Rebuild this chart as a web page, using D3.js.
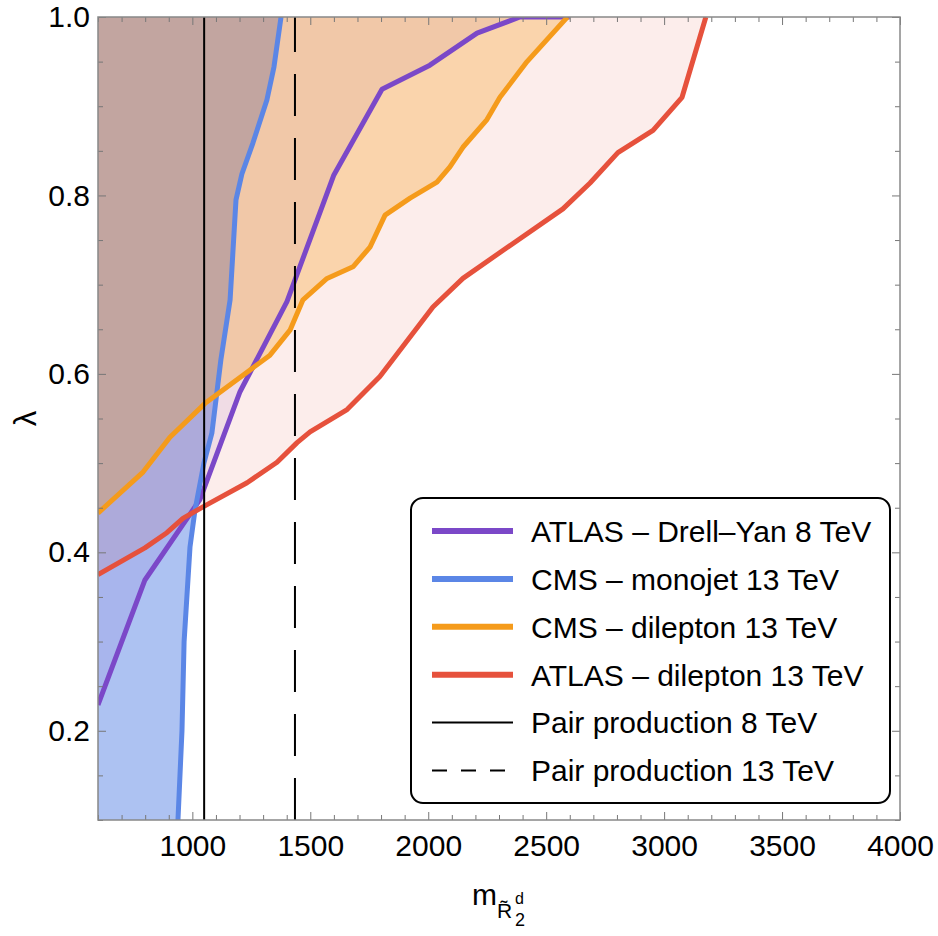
<!DOCTYPE html>
<html>
<head>
<meta charset="utf-8">
<script src="https://cdn.jsdelivr.net/npm/d3@7"></script>
<style>
  body { margin: 0; background: #fff; }
  text { font-family: "Liberation Sans", Arial, sans-serif; fill: #000; }
</style>
</head>
<body>
<div id="chart"></div>
<script>
// exclusion contours, mass (GeV) vs lambda
const atlasDyMass = [600, 799, 1032, 1202, 1401, 1600, 1804, 2007, 2207, 2389, 2600];
const atlasDyLambda = [0.229, 0.369, 0.459, 0.580, 0.681, 0.823, 0.919, 0.946, 0.982, 1.0, 1.0];

const cmsMonojetMass = [939, 956, 965, 990, 1011, 1049, 1083, 1121, 1160, 1185, 1210, 1257, 1316, 1346, 1376];
const cmsMonojetLambda = [0.10, 0.20, 0.30, 0.406, 0.447, 0.50, 0.534, 0.616, 0.683, 0.795, 0.824, 0.859, 0.907, 0.944, 1.0];

const cmsDilepMass = [600, 791, 905, 1054, 1329, 1414, 1469, 1571, 1681, 1753, 1817, 1923, 2037, 2092, 2147, 2249, 2304, 2419, 2590];
const cmsDilepLambda = [0.444, 0.490, 0.529, 0.567, 0.621, 0.649, 0.683, 0.707, 0.720, 0.742, 0.778, 0.797, 0.815, 0.832, 0.854, 0.885, 0.910, 0.950, 1.0];

const atlasDilepMass = [600, 799, 892, 960, 1045, 1232, 1359, 1444, 1499, 1656, 1795, 2020, 2147, 2304, 2571, 2686, 2804, 2953, 3076, 3177];
const atlasDilepLambda = [0.375, 0.405, 0.422, 0.438, 0.451, 0.478, 0.501, 0.523, 0.535, 0.560, 0.597, 0.675, 0.707, 0.736, 0.785, 0.814, 0.848, 0.873, 0.910, 1.0];

const pairMass = [1050, 1435]; // 8 TeV, 13 TeV

const massTicks = [1000, 1500, 2000, 2500, 3000, 3500, 4000];
const lambdaTicks = [0.2, 0.4, 0.6, 0.8, 1.0];

const legendLabels = [
  'ATLAS – Drell–Yan 8 TeV',
  'CMS – monojet 13 TeV',
  'CMS – dilepton 13 TeV',
  'ATLAS – dilepton 13 TeV',
  'Pair production 8 TeV',
  'Pair production 13 TeV'
];

const dims = { width: 938, height: 936 };
const frame = { left: 98, right: 900, top: 17, bottom: 820 };

const colors = { dy: '#7b48c8', mono: '#5b86e6', cmsDl: '#f59b1b', atlasDl: '#e6513c' };

const svg = d3.select('#chart')
  .append('svg')
  .attr('width', dims.width)
  .attr('height', dims.height);

const x = d3.scaleLinear().domain([600, 4000]).range([frame.left, frame.right]);
const y = d3.scaleLinear().domain([0.1, 1.0]).range([frame.bottom, frame.top]);

const toPoints = (ms, ls) => d3.zip(ms, ls).map(([m, l]) => ({ m, l }));

const dyData = toPoints(atlasDyMass, atlasDyLambda);
const monoData = toPoints(cmsMonojetMass, cmsMonojetLambda);
const cmsDlData = toPoints(cmsDilepMass, cmsDilepLambda);
const atlasDlData = toPoints(atlasDilepMass, atlasDilepLambda);

svg.append('clipPath').attr('id', 'plotClip')
  .append('rect')
  .attr('x', frame.left).attr('y', frame.top)
  .attr('width', frame.right - frame.left)
  .attr('height', frame.bottom - frame.top);

const plot = svg.append('g').attr('clip-path', 'url(#plotClip)');

// excluded regions
const leftArea = d3.area()
  .y(d => y(d.l))
  .x0(x(600))
  .x1(d => x(d.m));

const aboveArea = d3.area()
  .x(d => x(d.m))
  .y0(y(1.0))
  .y1(d => y(d.l));

plot.append('path').attr('d', leftArea(monoData)).attr('fill', colors.mono).attr('fill-opacity', 0.5);
plot.append('path').attr('d', aboveArea(dyData)).attr('fill', colors.dy).attr('fill-opacity', 0.1);
plot.append('path').attr('d', aboveArea(atlasDlData)).attr('fill', colors.atlasDl).attr('fill-opacity', 0.1);
plot.append('path').attr('d', aboveArea(cmsDlData)).attr('fill', colors.cmsDl).attr('fill-opacity', 0.3);

const line = d3.line()
  .x(d => x(d.m))
  .y(d => y(d.l));

[[dyData, colors.dy], [monoData, colors.mono], [cmsDlData, colors.cmsDl], [atlasDlData, colors.atlasDl]]
  .forEach(([data, c]) => {
    plot.append('path')
      .attr('d', line(data))
      .attr('fill', 'none')
      .attr('stroke', c)
      .attr('stroke-width', 5)
      .attr('stroke-linejoin', 'round');
  });

// pair production bounds
pairMass.forEach((m, i) => {
  plot.append('line')
    .attr('x1', x(m)).attr('x2', x(m))
    .attr('y1', y(0.1)).attr('y2', y(1.0))
    .attr('stroke', '#000')
    .attr('stroke-width', 2)
    .attr('stroke-dasharray', i === 1 ? '42,22' : null);
});

// frame + ticks
const minorMass = d3.range(600, 4001, 100).filter(v => v % 500 !== 0);
const minorLambda = d3.range(2, 21).map(v => v * 0.05).filter(v => Math.round(v * 100) % 20 !== 0);

const tickStyle = g => {
  g.select('.domain').remove();
  g.selectAll('.tick line').attr('stroke', '#777').attr('stroke-width', 1);
  g.selectAll('text').style('font-size', '30px').attr('fill', '#000');
};

svg.append('g').attr('transform', `translate(0,${frame.bottom})`)
  .call(d3.axisBottom(x).tickValues(massTicks).tickSizeInner(-8).tickSizeOuter(0).tickPadding(15).tickFormat(d3.format('d')))
  .call(tickStyle);
svg.append('g').attr('transform', `translate(0,${frame.bottom})`)
  .call(d3.axisBottom(x).tickValues(minorMass).tickSizeInner(-5).tickSizeOuter(0).tickFormat(''))
  .call(tickStyle);
svg.append('g').attr('transform', `translate(0,${frame.top})`)
  .call(d3.axisTop(x).tickValues(massTicks).tickSizeInner(-8).tickSizeOuter(0).tickFormat(''))
  .call(tickStyle);
svg.append('g').attr('transform', `translate(0,${frame.top})`)
  .call(d3.axisTop(x).tickValues(minorMass).tickSizeInner(-5).tickSizeOuter(0).tickFormat(''))
  .call(tickStyle);

svg.append('g').attr('transform', `translate(${frame.left},0)`)
  .call(d3.axisLeft(y).tickValues(lambdaTicks).tickSizeInner(-8).tickSizeOuter(0).tickPadding(8).tickFormat(d3.format('.1f')))
  .call(tickStyle);
svg.append('g').attr('transform', `translate(${frame.left},0)`)
  .call(d3.axisLeft(y).tickValues(minorLambda).tickSizeInner(-5).tickSizeOuter(0).tickFormat(''))
  .call(tickStyle);
svg.append('g').attr('transform', `translate(${frame.right},0)`)
  .call(d3.axisRight(y).tickValues(lambdaTicks).tickSizeInner(-8).tickSizeOuter(0).tickFormat(''))
  .call(tickStyle);
svg.append('g').attr('transform', `translate(${frame.right},0)`)
  .call(d3.axisRight(y).tickValues(minorLambda).tickSizeInner(-5).tickSizeOuter(0).tickFormat(''))
  .call(tickStyle);

svg.append('rect')
  .attr('x', frame.left).attr('y', frame.top)
  .attr('width', frame.right - frame.left)
  .attr('height', frame.bottom - frame.top)
  .attr('fill', 'none')
  .attr('stroke', '#888')
  .attr('stroke-width', 1.5);

// axis titles
svg.append('text')
  .attr('transform', `translate(36,${(frame.top + frame.bottom) / 2}) rotate(-90)`)
  .attr('text-anchor', 'middle')
  .style('font-size', '31px')
  .text('λ');

const xTitle = svg.append('g');
xTitle.append('text').attr('x', 472).attr('y', 905).style('font-size', '30px').text('m');
xTitle.append('text').attr('x', 497).attr('y', 918).style('font-size', '21px').text('R\u0303');
xTitle.append('text').attr('x', 515).attr('y', 904).style('font-size', '16px').text('d');
xTitle.append('text').attr('x', 515).attr('y', 926).style('font-size', '18px').text('2');

// legend
const legend = svg.append('g');
legend.append('rect')
  .attr('x', 411).attr('y', 498)
  .attr('width', 479).attr('height', 305)
  .attr('rx', 12)
  .attr('fill', '#fff')
  .attr('stroke', '#000')
  .attr('stroke-width', 2);

const legendStyles = [
  { c: colors.dy, w: 6 },
  { c: colors.mono, w: 6 },
  { c: colors.cmsDl, w: 6 },
  { c: colors.atlasDl, w: 6 },
  { c: '#000', w: 2 },
  { c: '#000', w: 2, dash: '15,14' }
];

legendLabels.forEach((label, i) => {
  const ly = 531 + i * 47.9;
  const s = legendStyles[i];
  legend.append('line')
    .attr('x1', 432).attr('x2', s.dash ? 506 : 513)
    .attr('y1', ly).attr('y2', ly)
    .attr('stroke', s.c)
    .attr('stroke-width', s.w)
    .attr('stroke-dasharray', s.dash || null);
  legend.append('text')
    .attr('x', 531).attr('y', ly)
    .attr('dy', '0.36em')
    .style('font-size', '30px')
    .text(label);
});
</script>
</body>
</html>
